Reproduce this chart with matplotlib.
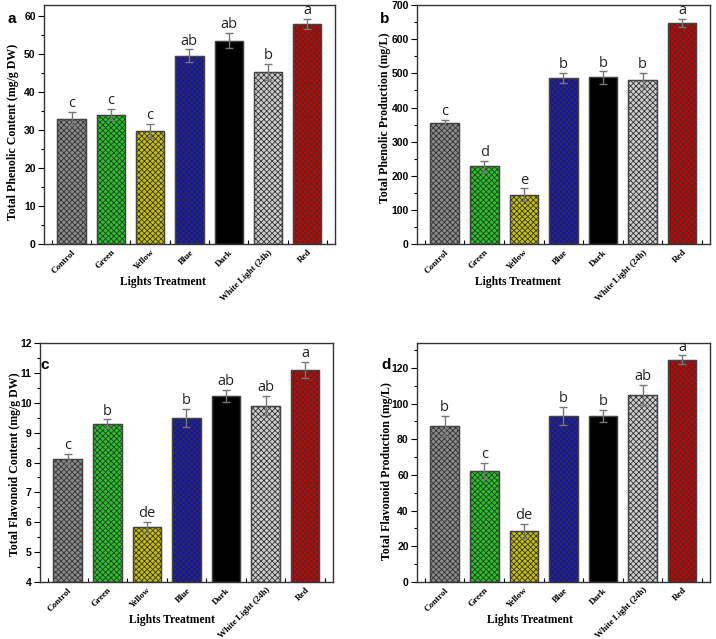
import matplotlib
matplotlib.use("Agg")
import matplotlib.pyplot as plt
from matplotlib.ticker import MultipleLocator, FixedLocator

categories = ["Control", "Green", "Yellow", "Blue", "Dark", "White Light (24h)", "Red"]
bar_colors = ["#8c8c8c", "#1ec81e", "#c8c000", "#1414b4", "#000000", "#cfcfcf", "#cc0000"]

phenolic_content = [33.0, 34.0, 29.8, 49.5, 53.5, 45.3, 57.8]
phenolic_content_err = [1.7, 1.5, 1.8, 1.7, 2.1, 2.1, 1.3]
phenolic_content_letters = ["c", "c", "c", "ab", "ab", "b", "a"]

phenolic_prod = [355, 228, 145, 487, 488, 481, 647]
phenolic_prod_err = [9, 16, 18, 14, 18, 20, 12]
phenolic_prod_letters = ["c", "d", "e", "b", "b", "b", "a"]

flavonoid_content = [8.12, 9.29, 5.85, 9.50, 10.23, 9.90, 11.10]
flavonoid_content_err = [0.18, 0.15, 0.17, 0.30, 0.20, 0.32, 0.27]
flavonoid_content_letters = ["c", "b", "de", "b", "ab", "ab", "a"]

flavonoid_prod = [87.5, 62.5, 28.5, 93.3, 93.0, 105.0, 124.5]
flavonoid_prod_err = [5.5, 4.5, 4.0, 5.0, 3.5, 5.5, 2.5]
flavonoid_prod_letters = ["b", "c", "de", "b", "b", "ab", "a"]

plt.rcParams['hatch.linewidth'] = 0.6

fig = plt.figure(figsize=(7.16, 6.39), dpi=100)

panels = [
    dict(rect=[0.0615, 0.618, 0.406, 0.374], vals=phenolic_content, err=phenolic_content_err,
         letters=phenolic_content_letters, ylabel="Total Phenolic Content (mg/g DW)",
         ylim=(0, 62.8), major=10, minor=5, tag="a", tagpos=(0.010, 0.982), xlab=0.41,
         ylab=(-0.107, 0.469)),
    dict(rect=[0.5824, 0.618, 0.409, 0.374], vals=phenolic_prod, err=phenolic_prod_err,
         letters=phenolic_prod_letters, ylabel="Total Phenolic Production (mg/L)",
         ylim=(0, 700), major=100, minor=50, tag="b", tagpos=(0.530, 0.982), xlab=0.345,
         ylab=(-0.109, 0.53)),
    dict(rect=[0.0559, 0.0892, 0.409, 0.374], vals=flavonoid_content, err=flavonoid_content_err,
         letters=flavonoid_content_letters, ylabel="Total Flavonoid Content (mg/g DW)",
         ylim=(4, 12), major=1, minor=0.5, tag="c", tagpos=(0.057, 0.440), bottom=4, xlab=0.45,
         ylab=(-0.085, 0.494)),
    dict(rect=[0.5824, 0.0892, 0.409, 0.374], vals=flavonoid_prod, err=flavonoid_prod_err,
         letters=flavonoid_prod_letters, ylabel="Total Flavonoid Production (mg/L)",
         ylim=(0, 134), major=20, minor=10, tag="d", tagpos=(0.533, 0.440), xlab=0.386,
         ylab=(-0.102, 0.464)),
]

x = list(range(len(categories)))
for p in panels:
    ax = fig.add_axes(p["rect"])
    base = p.get("bottom", 0)
    heights = [v - base for v in p["vals"]]
    for xi, h, c in zip(x, heights, bar_colors):
        hatch_col = "#333333" if c != "#000000" else "#000000"
        ax.bar(xi, h, bottom=base, width=0.72, color=c, edgecolor=hatch_col,
               hatch="xxxxxx", linewidth=0.8, zorder=2)
        ax.bar(xi, h, bottom=base, width=0.72, facecolor="none", edgecolor="#444444",
               linewidth=1.0, zorder=3)
    ax.errorbar(x, p["vals"], yerr=p["err"], fmt="none", ecolor="#777777",
                elinewidth=1.0, capsize=3, capthick=1.0, zorder=4)
    rng = p["ylim"][1] - p["ylim"][0]
    for xi, v, e, l in zip(x, p["vals"], p["err"], p["letters"]):
        ax.text(xi, v + e + rng * 0.003, l, ha="center", va="bottom",
                fontsize=10.5, family="Open Sans", color="#222222")
    ax.set_xlim(-0.7, 6.7)
    ax.set_ylim(*p["ylim"])
    ax.yaxis.set_major_locator(MultipleLocator(p["major"]))
    ax.yaxis.set_minor_locator(MultipleLocator(p["minor"]))
    ax.set_xticks(x)
    ax.xaxis.set_minor_locator(FixedLocator([i - 0.5 for i in range(len(categories) + 1)]))
    ax.set_xticklabels(categories, rotation=45, ha="right", rotation_mode="anchor",
                       family="Liberation Serif", fontweight="bold", fontsize=6.5)
    for lab in ax.get_yticklabels():
        lab.set_family("Liberation Sans")
        lab.set_fontweight("bold")
        lab.set_fontsize(7.5)
    ax.tick_params(axis="x", which="major", direction="in", length=4, width=0.8, pad=3)
    ax.tick_params(axis="x", which="minor", direction="in", length=3, width=0.8)
    ax.tick_params(axis="y", which="major", direction="out", length=4, width=0.8, pad=2)
    ax.tick_params(axis="y", which="minor", direction="out", length=2, width=0.8)
    for s in ax.spines.values():
        s.set_linewidth(1.0)
        s.set_color("#333333")
    ax.set_ylabel(p["ylabel"], family="Liberation Serif", fontweight="bold", fontsize=8.6)
    ax.yaxis.set_label_coords(*p["ylab"])
    ax.yaxis.label.set_va("center")
    ax.set_xlabel("Lights Treatment", family="Liberation Serif", fontweight="bold",
                  fontsize=8.4)
    ax.xaxis.set_label_coords(p["xlab"], -38.0 / 239.0)
    ax.xaxis.label.set_va("center")
    fig.text(p["tagpos"][0], p["tagpos"][1], p["tag"], fontsize=11, fontweight="bold",
             family="Liberation Sans", ha="left", va="top")

fig.savefig("out.png", dpi=100, facecolor="white")
